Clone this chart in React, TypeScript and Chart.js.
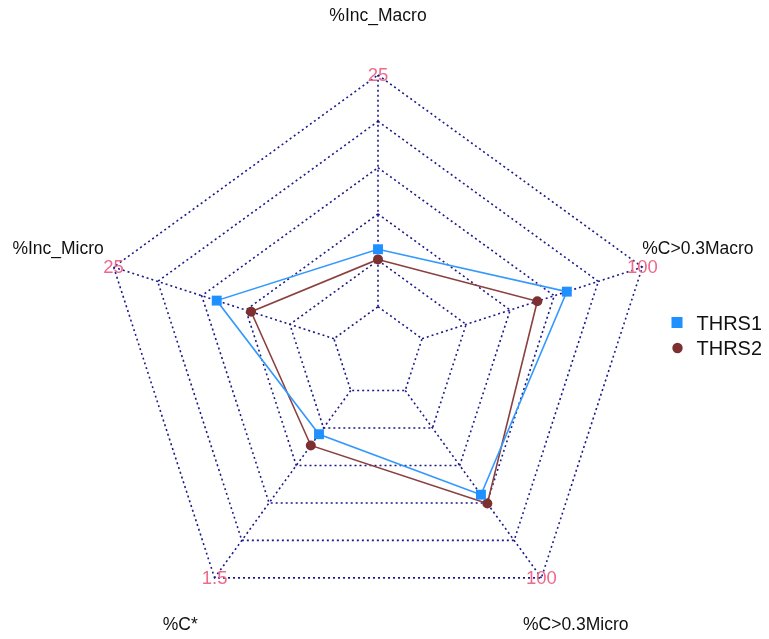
import React, { useEffect, useRef } from "react";
import { Chart, registerables } from "chart.js";

Chart.register(...registerables);

// Axes, clockwise from the top
const axisLabels = ["%Inc_Macro", "%C>0.3Macro", "%C>0.3Micro", "%C*", "%Inc_Micro"];
const axisMax = [25, 100, 100, 1.5, 25];
const axisMin = [0, 0, 0, 0, 0];
const axisMaxLabels = ["25", "100", "100", "1.5", "25"];

const seriesNames = ["THRS1", "THRS2"];
const thrs1 = [6.2, 65.7, 55.6, 0.35, 13.3];
const thrs2 = [5.1, 52.3, 60.3, 0.44, 9.4];

const SEG = 5;
const FONT = "'Liberation Sans', Arial, sans-serif";
const GRID = "#1a1a8a";

const normalize = (vals: number[]) =>
  vals.map((v, i) => 1 + (SEG * (v - axisMin[i])) / (axisMax[i] - axisMin[i]));

const overlayPlugin = {
  id: "fmsbOverlay",
  beforeDatasetsDraw(chart: any) {
    const scale = chart.scales.r;
    const ctx = chart.ctx;
    ctx.save();
    ctx.strokeStyle = GRID;
    ctx.lineWidth = 1.6;
    ctx.setLineDash([2, 3]);
    for (let i = 0; i < axisLabels.length; i++) {
      const a = scale.getPointPositionForValue(i, 1);
      const b = scale.getPointPositionForValue(i, SEG + 1);
      ctx.beginPath();
      ctx.moveTo(a.x, a.y);
      ctx.lineTo(b.x, b.y);
      ctx.stroke();
    }
    ctx.restore();
  },
  afterDraw(chart: any) {
    const scale = chart.scales.r;
    const ctx = chart.ctx;
    ctx.save();
    ctx.textAlign = "center";
    ctx.textBaseline = "middle";
    // axis names
    ctx.fillStyle = "#111";
    ctx.font = `17.5px ${FONT}`;
    for (let i = 0; i < axisLabels.length; i++) {
      const p = scale.getPointPosition(i, scale.drawingArea * 1.21);
      ctx.fillText(axisLabels[i], p.x, p.y);
    }
    // max labels at outer vertices
    ctx.fillStyle = "#EE6A8A";
    ctx.font = `18.5px ${FONT}`;
    for (let i = 0; i < axisLabels.length; i++) {
      const p = scale.getPointPositionForValue(i, SEG + 1);
      ctx.fillText(axisMaxLabels[i], p.x, p.y + 1);
    }
    // legend
    const lx = 669;
    const ly = [315, 340];
    ctx.textAlign = "left";
    ctx.font = `20px ${FONT}`;
    ctx.fillStyle = "#1E90FF";
    ctx.fillRect(lx - 5.5, ly[0] - 6, 11, 11);
    ctx.fillStyle = "#7D3030";
    ctx.beginPath();
    ctx.arc(lx + 0.5, ly[1], 5.2, 0, Math.PI * 2);
    ctx.fill();
    ctx.fillStyle = "#111";
    ctx.fillText(seriesNames[0], 688.5, ly[0] + 1);
    ctx.fillText(seriesNames[1], 688.5, ly[1] + 1);
    ctx.restore();
  },
};

export default function App() {
  const ref = useRef<HTMLCanvasElement | null>(null);
  useEffect(() => {
    if (!ref.current) return;
    const chart = new Chart(ref.current, {
      type: "radar",
      data: {
        labels: axisLabels,
        datasets: [
          {
            label: seriesNames[0],
            data: normalize(thrs1),
            borderColor: "#3399FF",
            backgroundColor: "#1E90FF",
            borderWidth: 1.6,
            fill: false,
            pointStyle: "rect",
            pointRadius: 7,
            pointBorderWidth: 0,
            pointBackgroundColor: "#1E90FF",
          },
          {
            label: seriesNames[1],
            data: normalize(thrs2),
            borderColor: "#8B4040",
            backgroundColor: "#7D3030",
            borderWidth: 1.6,
            fill: false,
            pointStyle: "circle",
            pointRadius: 5,
            pointBorderWidth: 0,
            pointBackgroundColor: "#7D3030",
          },
        ],
      },
      options: {
        responsive: false,
        animation: false,
        layout: { padding: { left: 92, top: 67, right: 105, bottom: 0 } },
        plugins: {
          legend: { display: false },
          tooltip: { enabled: false },
        },
        scales: {
          r: {
            min: 0,
            max: SEG + 1,
            ticks: { display: false, stepSize: 1 },
            pointLabels: { display: false },
            angleLines: { display: false },
            grid: { color: GRID, lineWidth: 1.6 },
            border: { dash: [2, 3] },
          } as any,
        },
      },
      plugins: [overlayPlugin],
    });
    return () => chart.destroy();
  }, []);
  return (
    <div style={{ width: 753, height: 623 }}>
      <canvas ref={ref} width={753} height={623} style={{ display: "block" }} />
    </div>
  );
}
